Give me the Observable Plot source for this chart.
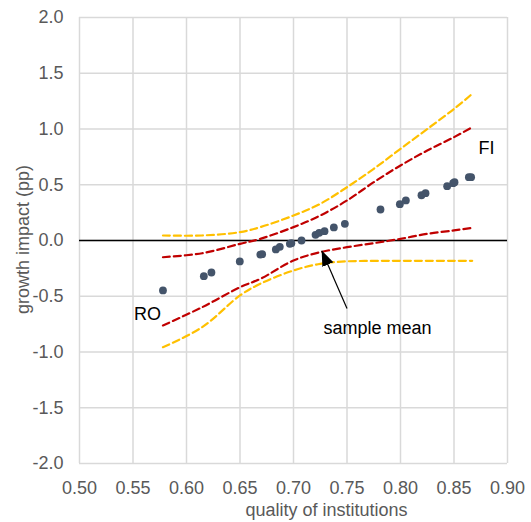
<!DOCTYPE html>
<html><head><meta charset="utf-8">
<script src="https://cdn.jsdelivr.net/npm/d3@7"></script>
<script src="https://cdn.jsdelivr.net/npm/@observablehq/plot@0.6"></script>
<style>html,body{margin:0;padding:0;background:#fff;}</style>
</head><body><div id="chart"></div>
<script>
// Country points: quality of institutions vs growth impact (pp)
const countryX = [0.578,0.6162,0.6233,0.6498,0.669,0.6707,0.6835,0.6872,0.6966,0.698,0.7075,0.7206,0.724,0.729,0.7377,0.748,0.7813,0.7994,0.805,0.8196,0.8234,0.8436,0.8492,0.8505,0.8639,0.866];
const countryY = [-0.448,-0.32,-0.287,-0.188,-0.126,-0.123,-0.08,-0.057,-0.03,-0.024,0.0,0.051,0.069,0.084,0.117,0.15,0.278,0.326,0.359,0.406,0.424,0.487,0.514,0.523,0.568,0.568];

// Confidence bands
const bandX   = [0.578,0.6147,0.650,0.669,0.700,0.725,0.750,0.775,0.800,0.825,0.850,0.867];
const upperOuter = [0.045,0.045,0.075,0.12,0.224,0.329,0.478,0.643,0.822,1.0,1.18,1.315];
const upperInner = [-0.15,-0.114,-0.03,0.015,0.12,0.224,0.359,0.523,0.673,0.807,0.927,1.016];
const lowerInner = [-0.762,-0.598,-0.419,-0.344,-0.179,-0.105,-0.06,-0.024,0.015,0.06,0.09,0.114];
const lowerOuter = [-0.957,-0.777,-0.493,-0.388,-0.269,-0.209,-0.187,-0.183,-0.182,-0.182,-0.182,-0.182];

// Ticks
const xTicks = [0.50,0.55,0.60,0.65,0.70,0.75,0.80,0.85,0.90];
const yTicks = [-2.0,-1.5,-1.0,-0.5,0.0,0.5,1.0,1.5,2.0];

// Annotations
const labelText = ["RO","FI"];
const labelX = [0.5636,0.8804];
const labelY = [-0.664,0.828];
const noteText = ["sample mean"];
const noteX = [0.728];
const noteY = [-0.79];
const arrowFrom = [0.7500,-0.610];
const arrowTo = [0.7265,-0.093];

const xTitle = "quality of institutions";
const yTitle = "growth impact (pp)";

const pts = (xs, ys) => xs.map((x, i) => ({x, y: ys[i]}));

function filledArrow(color) {
  const ns = "http://www.w3.org/2000/svg";
  const m = document.createElementNS(ns, "marker");
  m.setAttribute("viewBox", "-15 -7 16 14");
  m.setAttribute("markerWidth", "16");
  m.setAttribute("markerHeight", "14");
  m.setAttribute("markerUnits", "userSpaceOnUse");
  m.setAttribute("refX", "0");
  m.setAttribute("refY", "0");
  m.setAttribute("orient", "auto");
  const p = document.createElementNS(ns, "path");
  p.setAttribute("d", "M-15,-6L0.5,0L-15,6Z");
  p.setAttribute("fill", "#000");
  p.setAttribute("stroke", "none");
  m.appendChild(p);
  return m;
}

const dash = "7,4";
const lineOpts = (color) => ({x: "x", y: "y", stroke: color, strokeWidth: 2.2, strokeDasharray: dash, curve: "catmull-rom"});
const chart = Plot.plot({
  width: 531, height: 522,
  marginLeft: 79, marginRight: 24, marginTop: 17, marginBottom: 59,
  style: {fontFamily: "'Liberation Sans', Arial, sans-serif", fontSize: "18px", color: "#595959", background: "#fff"},
  x: {domain: [0.5, 0.9]},
  y: {domain: [-2, 2]},
  marks: [
    Plot.gridX(xTicks, {stroke: "#d9d9d9", strokeOpacity: 1, strokeWidth: 1.5}),
    Plot.gridY(yTicks, {stroke: "#d9d9d9", strokeOpacity: 1, strokeWidth: 1.5}),
    Plot.axisX(xTicks, {tickSize: 0, tickPadding: 18, tickFormat: d => d.toFixed(2), label: null, fill: "#595959"}),
    Plot.axisY(yTicks, {tickSize: 0, tickPadding: 16, tickFormat: d => d.toFixed(1), label: null, fill: "#595959"}),
    Plot.ruleY([0], {stroke: "#000", strokeWidth: 1.3}),
    Plot.line(pts(bandX, upperOuter), lineOpts("#ffc000")),
    Plot.line(pts(bandX, lowerOuter), lineOpts("#ffc000")),
    Plot.line(pts(bandX, upperInner), lineOpts("#c00000")),
    Plot.line(pts(bandX, lowerInner), lineOpts("#c00000")),
    Plot.dot(pts(countryX, countryY), {x: "x", y: "y", r: 3.9, fill: "#44546a", stroke: "none"}),
    Plot.link([{x1: arrowFrom[0], y1: arrowFrom[1], x2: arrowTo[0], y2: arrowTo[1]}], {x1: "x1", y1: "y1", x2: "x2", y2: "y2", stroke: "#000", strokeWidth: 1.2, markerEnd: filledArrow}),
    Plot.text(labelText.map((t, i) => ({t, x: labelX[i], y: labelY[i]})), {x: "x", y: "y", text: "t", fill: "#000", fontSize: 18}),
    Plot.text(noteText.map((t, i) => ({t, x: noteX[i], y: noteY[i]})), {x: "x", y: "y", text: "t", fill: "#000", fontSize: 18, textAnchor: "start"}),
    Plot.text([xTitle], {frameAnchor: "bottom", dy: 47, dx: 33, lineAnchor: "middle", textAnchor: "middle", fill: "#595959", fontSize: 18}),
    Plot.text([yTitle], {frameAnchor: "left", rotate: -90, dx: -56, dy: -1, lineAnchor: "middle", textAnchor: "middle", fill: "#595959", fontSize: 18})
  ]
});
document.getElementById("chart").appendChild(chart);
</script>
</body></html>
